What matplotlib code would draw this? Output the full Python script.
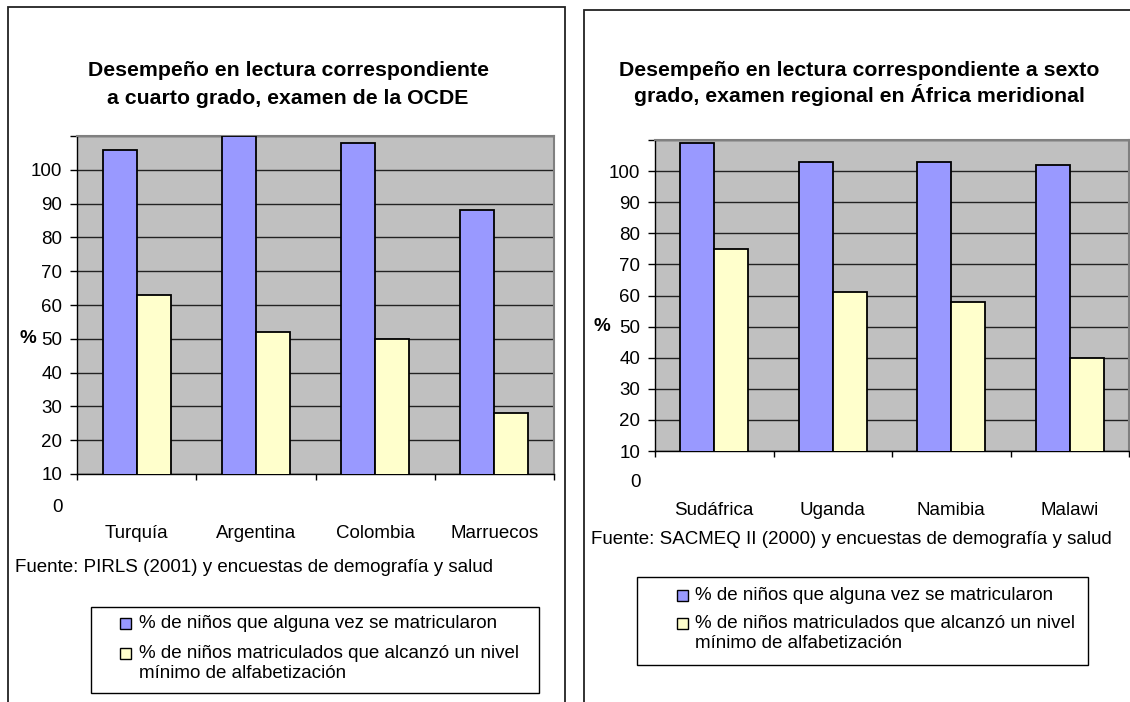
"""Two Excel-style grouped bar charts: enrolment vs. minimum literacy (OCDE / SACMEQ)."""
import matplotlib
matplotlib.use("Agg")
import matplotlib.pyplot as plt  # noqa: E402
from matplotlib.patches import Rectangle  # noqa: E402
from matplotlib.transforms import offset_copy  # noqa: E402

plt.rcParams["font.family"] = ["Liberation Sans", "DejaVu Sans"]

W, H = 1130, 702
FS = 13.5  # regular text size

SERIES = ["% de niños que alguna vez se matricularon",
          "% de niños matriculados que alcanzó un nivel\nmínimo de alfabetización"]
COLORS = ["#9999ff", "#ffffcc"]
Y_TICKS = [10, 20, 30, 40, 50, 60, 70, 80, 90, 100, 110]
Y_LABELS = ["10", "20", "30", "40", "50", "60", "70", "80", "90", "100", ""]

OCDE_TITLE = ["Desempeño en lectura correspondiente", "a cuarto grado, examen de la OCDE"]
OCDE_PAISES = ["Turquía", "Argentina", "Colombia", "Marruecos"]
OCDE_MATRIC = [106, 110, 108, 88]
OCDE_ALFAB = [63, 52, 50, 28]
OCDE_FUENTE = "Fuente: PIRLS (2001) y encuestas de demografía y salud"

AFR_TITLE = ["Desempeño en lectura correspondiente a sexto",
             "grado, examen regional en África meridional"]
AFR_PAISES = ["Sudáfrica", "Uganda", "Namibia", "Malawi"]
AFR_MATRIC = [109, 103, 103, 102]
AFR_ALFAB = [75, 61, 58, 40]
AFR_FUENTE = "Fuente: SACMEQ II (2000) y encuestas de demografía y salud"


def fx(x):
    return x / W


def fy(y):
    return 1 - y / H


def panel(fig, lay, title, paises, matric, alfab, fuente):
    # outer frame of the chart object (bottom runs off the page)
    bx0, by0, bx1 = lay["box"]
    fig.patches.append(Rectangle((fx(bx0), fy(H + 20)), fx(bx1 - bx0), (H + 20 - by0) / H,
                                 transform=fig.transFigure, fill=False,
                                 edgecolor="#222222", lw=1.3))
    for line, ty in zip(title, lay["title_y"]):
        fig.text(fx(lay["title_x"]), fy(ty), line, ha="center", va="center",
                 fontsize=15.3, fontweight="bold")

    l, t, r, b = lay["ax"]
    ax = fig.add_axes([fx(l), fy(b), fx(r - l), (b - t) / H])
    ax.set_facecolor("#c0c0c0")
    x = range(len(paises))
    w = 0.285
    ax.bar([i - w / 2 for i in x], matric, w, color=COLORS[0], edgecolor="black", lw=1.3, zorder=3)
    ax.bar([i + w / 2 for i in x], alfab, w, color=COLORS[1], edgecolor="black", lw=1.3, zorder=3)
    ax.set_xlim(-0.5, len(paises) - 0.5)
    ax.set_ylim(10, 110)
    ax.set_yticks(Y_TICKS)
    ax.set_yticklabels(Y_LABELS)
    ax.yaxis.grid(True, color="#222222", lw=1.0, zorder=1)
    ax.tick_params(axis="y", direction="out", length=5, width=1, pad=5.5, labelsize=FS)
    ax.set_xticks([i - 0.5 for i in range(len(paises) + 1)])
    ax.set_xticklabels([])
    ax.set_xticks(list(x), minor=True)
    ax.set_xticklabels(paises, minor=True)
    ax.tick_params(axis="x", which="major", direction="out", length=4, width=1)
    ax.tick_params(axis="x", which="minor", length=0, pad=lay["cat_pad"], labelsize=FS)
    for s in ("top", "right"):
        ax.spines[s].set_color("#808080")
        ax.spines[s].set_linewidth(1.5)
    for s in ("left", "bottom"):
        ax.spines[s].set_color("black")
        ax.spines[s].set_linewidth(1.0)
    # the stray "0" label below the plot area
    tr = offset_copy(ax.get_yaxis_transform(), fig=fig, x=-10.5, y=0, units="points")
    ax.text(0, 0, "0", transform=tr, ha="right", va="center", fontsize=FS, clip_on=False)
    ax.text(lay["pct_x"], 50, "%", transform=ax.get_yaxis_transform(), ha="center",
            va="center", fontsize=FS, fontweight="bold", clip_on=False)

    fig.text(fx(lay["fuente"][0]), fy(lay["fuente"][1]), fuente, ha="left", va="center",
             fontsize=FS)

    # legend box drawn by hand (handles aligned to first line like Excel)
    lx0, ly0, lx1, ly1 = lay["leg"]
    fig.patches.append(Rectangle((fx(lx0), fy(ly1)), fx(lx1 - lx0), (ly1 - ly0) / H,
                                 transform=fig.transFigure, facecolor="white",
                                 edgecolor="black", lw=1.0))
    sq = 11
    for name, col, ly in zip(SERIES, COLORS, lay["leg_y"]):
        fig.patches.append(Rectangle((fx(lay["leg_sq"]), fy(ly + sq / 2)), fx(sq), sq / H,
                                     transform=fig.transFigure, facecolor=col,
                                     edgecolor="black", lw=1.0))
        for k, part in enumerate(name.split("\n")):
            fig.text(fx(lay["leg_tx"]), fy(ly + k * 20), part, ha="left", va="center",
                     fontsize=FS)
    return ax


fig = plt.figure(figsize=(W / 100, H / 100), dpi=100)

left = dict(box=(8, 7, 565), title_x=288, title_y=(71, 99), ax=(77, 136, 554, 474),
            cat_pad=37, pct_x=-0.102, fuente=(15, 568), leg=(91, 607, 539, 693),
            leg_sq=120, leg_tx=139, leg_y=(623, 653))
right = dict(box=(584, 10, 1134), title_x=859, title_y=(71, 95), ax=(655, 140, 1129, 451),
             cat_pad=37, pct_x=-0.113, fuente=(591, 540), leg=(637, 577, 1088, 665),
             leg_sq=677, leg_tx=695, leg_y=(595, 623))

panel(fig, left, OCDE_TITLE, OCDE_PAISES, OCDE_MATRIC, OCDE_ALFAB, OCDE_FUENTE)
panel(fig, right, AFR_TITLE, AFR_PAISES, AFR_MATRIC, AFR_ALFAB, AFR_FUENTE)

fig.savefig("out.png", dpi=100, facecolor="white")
